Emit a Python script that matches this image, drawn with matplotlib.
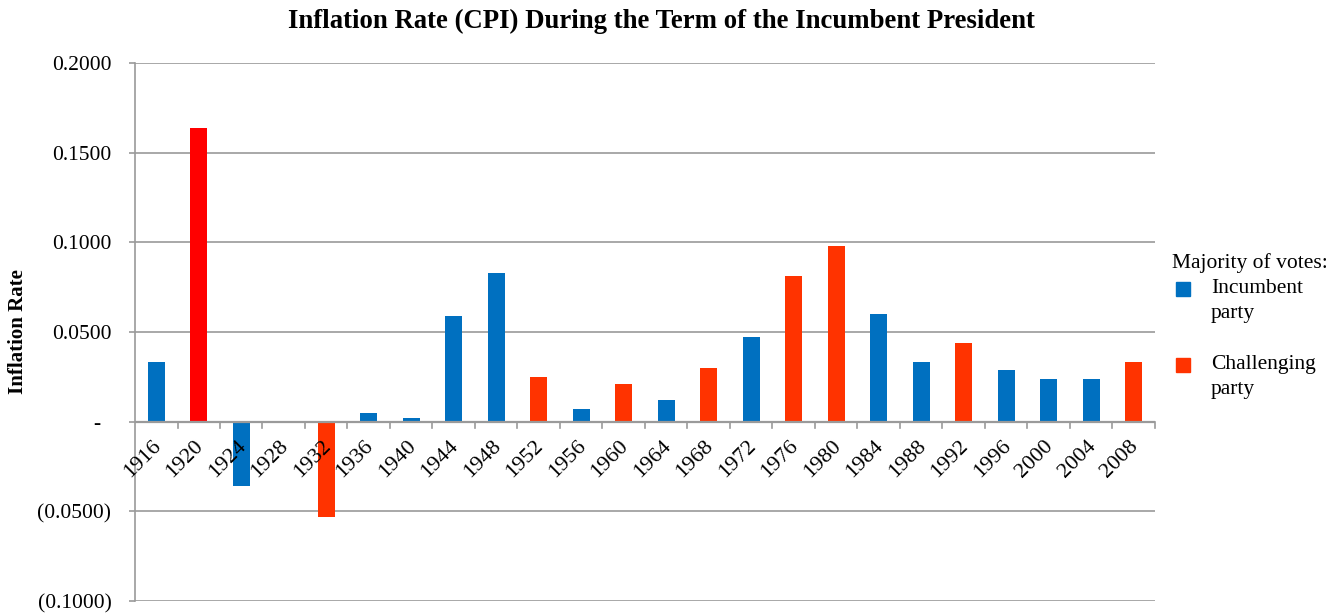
"""
Inflation rate (CPI) during the term of the incumbent president, bar chart
"""

import matplotlib.pyplot as plt
from matplotlib.lines import Line2D
from matplotlib.ticker import FuncFormatter

years = ['1916', '1920', '1924', '1928', '1932', '1936', '1940', '1944',
         '1948', '1952', '1956', '1960', '1964', '1968', '1972', '1976',
         '1980', '1984', '1988', '1992', '1996', '2000', '2004', '2008']
inflation = [0.033, 0.164, -0.036, 0.0, -0.053, 0.005, 0.002, 0.059,
             0.083, 0.025, 0.007, 0.021, 0.012, 0.030, 0.047, 0.081,
             0.098, 0.060, 0.033, 0.044, 0.029, 0.024, 0.024, 0.033]
# who won the majority of votes
winner = ['inc', 'chal', 'inc', 'inc', 'chal', 'inc', 'inc', 'inc',
          'inc', 'chal', 'inc', 'chal', 'inc', 'chal', 'inc', 'chal',
          'chal', 'inc', 'inc', 'chal', 'inc', 'inc', 'inc', 'chal']
legend_labels = ['Incumbent\nparty', 'Challenging\nparty']

BLUE = '#0070C0'
ORANGE = '#FF3300'
RED = '#FF0000'
GRID = '#9A9A9A'

colors = [BLUE if w == 'inc' else ORANGE for w in winner]
colors[1] = RED  # 1920 bar is drawn in pure red in the original

plt.rcParams['font.family'] = ['Liberation Serif', 'DejaVu Serif']

W, H = 1338, 614
fig = plt.figure(figsize=(W / 100, H / 100), dpi=100)
ax = fig.add_axes([0.1009, 0.0212, 0.7623, 0.8762])

x = list(range(len(years)))
ax.bar(x, inflation, width=0.4, color=colors, zorder=3)

ax.set_xlim(-0.5, len(years) - 0.5)
ax.set_ylim(-0.1, 0.2)
ax.set_yticks([-0.1, -0.05, 0.0, 0.05, 0.1, 0.15, 0.2])


def fmt(v, pos):
    # accounting style, like the spreadsheet
    if abs(v) < 1e-9:
        return '-  '
    if v < 0:
        return '({:.4f})'.format(-v)
    return '{:.4f}'.format(v)


ax.yaxis.set_major_formatter(FuncFormatter(fmt))
ax.yaxis.grid(True, color=GRID, linewidth=1.2, zorder=0)
ax.tick_params(axis='y', labelsize=15.5, length=4, width=1.2, color=GRID, pad=13)

for s in ['top', 'right', 'bottom']:
    ax.spines[s].set_visible(False)
ax.spines['left'].set_color(GRID)
ax.spines['left'].set_linewidth(1.2)

# category axis sits on zero, ticks between categories
ax.axhline(0, color=GRID, linewidth=1.6, zorder=4)
ax.set_xticks([])
for b in range(1, len(years) + 1):
    ax.plot([b - 0.5, b - 0.5], [0, -0.0035], color=GRID, linewidth=1.2,
            clip_on=False, zorder=4)
for i, yr in enumerate(years):
    ax.text(i - 0.11, -0.0085, yr, rotation=45, rotation_mode='anchor',
            ha='right', va='top', fontsize=16, zorder=5)

ax.set_ylabel('Inflation Rate', fontsize=15, fontweight='bold')
ax.yaxis.label.set_verticalalignment('center')
ax.yaxis.set_label_coords(-0.1147, 0.5)
fig.text(0.494, 1 - 21 / H, 'Inflation Rate (CPI) During the Term of the Incumbent President',
         ha='center', va='center', fontsize=19.3, fontweight='bold')

# legend laid out by hand: marker lines up with the first line of each label
fig.text(1172 / W, 1 - 263 / H, 'Majority of votes:', ha='left', va='center',
         fontsize=15.5)
for lab, col, ytxt in zip(legend_labels, [BLUE, ORANGE], [286, 362]):
    fig.add_artist(Line2D([1183 / W], [1 - (ytxt + 3) / H], marker='s',
                          linestyle='none', color=col, markersize=9.5,
                          transform=fig.transFigure))
    fig.text(1211 / W, 1 - (ytxt - 7) / H, lab, ha='left', va='top',
             fontsize=15.5, linespacing=1.45)

fig.savefig('out.png', dpi=100)
